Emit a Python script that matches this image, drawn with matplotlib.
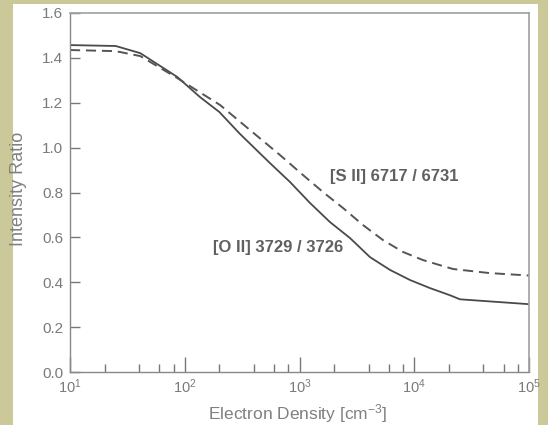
import matplotlib
matplotlib.use("Agg")
import matplotlib.pyplot as plt
from matplotlib.ticker import LogLocator, NullFormatter, FixedLocator

plt.rcParams['font.family'] = ['Liberation Sans', 'DejaVu Sans']
plt.rcParams['mathtext.fontset'] = 'custom'
plt.rcParams['mathtext.rm'] = 'Liberation Sans'
plt.rcParams['mathtext.it'] = 'Liberation Sans:italic'
plt.rcParams['mathtext.bf'] = 'Liberation Sans:bold'

# Data
oii_density = [10, 25, 41, 86, 136, 200, 303, 553, 826, 1236, 1845, 2755, 4113,
               6146, 9181, 13700, 20500, 25000, 95500, 100000]
oii_ratio = [1.457, 1.453, 1.421, 1.315, 1.225, 1.159, 1.061, 0.931, 0.847, 0.753,
             0.668, 0.597, 0.512, 0.455, 0.410, 0.374, 0.342, 0.324, 0.303, 0.302]

sii_density = [10, 25, 41, 86, 203, 371, 676, 1072, 1602, 2393, 3574, 5340, 7980,
               11900, 17800, 21800, 45000, 100000]
sii_ratio = [1.435, 1.430, 1.408, 1.310, 1.190, 1.078, 0.967, 0.878, 0.802, 0.731,
             0.655, 0.588, 0.535, 0.499, 0.472, 0.459, 0.441, 0.430]

y_ticks = [0.0, 0.2, 0.4, 0.6, 0.8, 1.0, 1.2, 1.4, 1.6]
y_tick_labels = ["0.0", "0.2", "0.4", "0.6", "0.8", "1.0", "1.2", "1.4", "1.6"]
x_ticks = [10, 100, 1000, 10000, 100000]
x_tick_labels = [r"$10^{1}$", r"$10^{2}$", r"$10^{3}$", r"$10^{4}$", r"$10^{5}$"]

W, H = 548, 425
fig = plt.figure(figsize=(W / 100, H / 100), dpi=100)
fig.patch.set_facecolor('#cbc99a')
bg = fig.add_axes([13 / W, 0, (538 - 13) / W, (H - 4) / H], zorder=-10)
bg.set_facecolor('white')
bg.set_xticks([])
bg.set_yticks([])
for s in bg.spines.values():
    s.set_visible(False)

ax = fig.add_axes([70 / W, (H - 372) / H, (529 - 70) / W, (372 - 13) / H], zorder=1)
ax.set_facecolor('white')

ax.plot(oii_density, oii_ratio, color='#4a4a4a', lw=1.3, solid_joinstyle='round')
ax.plot(sii_density, sii_ratio, color='#555555', lw=1.4, linestyle=(0, (5.2, 3.0)))

ax.set_xscale('log')
ax.set_xlim(10, 100000)
ax.set_ylim(0, 1.6)

ax.xaxis.set_major_locator(FixedLocator(x_ticks))
ax.set_xticklabels(x_tick_labels)
ax.xaxis.set_minor_locator(LogLocator(base=10, subs=[2, 4, 6, 8]))
ax.xaxis.set_minor_formatter(NullFormatter())
ax.set_yticks(y_ticks)
ax.set_yticklabels(y_tick_labels)

tick_col = '#7a7a7a'
ax.tick_params(axis='x', which='major', direction='in', length=11, width=1.0,
               color='#777777', labelcolor=tick_col, labelsize=10.5, pad=4)
ax.tick_params(axis='x', which='minor', direction='in', length=6, width=1.0,
               color='#777777')
ax.tick_params(axis='y', which='major', direction='in', length=7.5, width=1.0,
               color='#777777', labelcolor=tick_col, labelsize=11, pad=5)
ax.tick_params(axis='both', which='both', top=False, right=False)

for side in ['left', 'bottom']:
    ax.spines[side].set_color('#888888')
    ax.spines[side].set_linewidth(1.0)
for side in ['top', 'right']:
    ax.spines[side].set_color('#a0a0a0')
    ax.spines[side].set_linewidth(1.2)

fig.text(298 / W, 1 - 414 / H, r"Electron Density [cm$^{-3}$]", fontsize=12.5,
         color='#808080', ha='center', va='center')
fig.text(19 / W, 1 - 189 / H, "Intensity Ratio", fontsize=13, rotation=90,
         color='#808080', ha='center', va='center')

ax.text(1845, 0.871, "[S II] 6717 / 6731", fontsize=12, fontweight='bold',
        color='#606060', ha='left', va='center')
ax.text(176, 0.553, "[O II] 3729 / 3726", fontsize=12, fontweight='bold',
        color='#606060', ha='left', va='center')

fig.savefig("out.png", dpi=100, facecolor=fig.get_facecolor())
